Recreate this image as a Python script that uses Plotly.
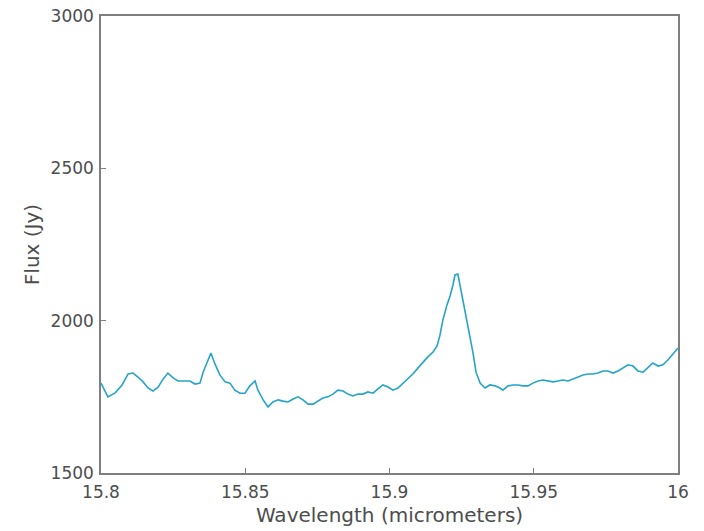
import plotly.graph_objects as go

# Spectrum samples: wavelength (micrometers) and flux (Jy)
wavelength = [
    15.8000, 15.8024, 15.8049, 15.8073, 15.8094, 15.8111, 15.8128, 15.8146,
    15.8163, 15.8180, 15.8198, 15.8215, 15.8232, 15.8250, 15.8267, 15.8291,
    15.8308, 15.8326, 15.8343, 15.8354, 15.8367, 15.8381, 15.8395, 15.8412,
    15.8430, 15.8447, 15.8464, 15.8482, 15.8499, 15.8516, 15.8534, 15.8544,
    15.8562, 15.8579, 15.8596, 15.8614, 15.8631, 15.8648, 15.8666, 15.8683,
    15.8700, 15.8718, 15.8735, 15.8752, 15.8769, 15.8787, 15.8804, 15.8821,
    15.8839, 15.8856, 15.8873, 15.8891, 15.8908, 15.8925, 15.8943, 15.8960,
    15.8977, 15.8995, 15.9012, 15.9029, 15.9047, 15.9064, 15.9081, 15.9099,
    15.9116, 15.9133, 15.9151, 15.9165, 15.9175, 15.9185, 15.9199, 15.9210,
    15.9220, 15.9227, 15.9237, 15.9244, 15.9255, 15.9269, 15.9279, 15.9289,
    15.9300, 15.9314, 15.9331, 15.9348, 15.9366, 15.9383, 15.9393, 15.9411,
    15.9428, 15.9445, 15.9463, 15.9480, 15.9497, 15.9515, 15.9532, 15.9549,
    15.9567, 15.9584, 15.9601, 15.9619, 15.9636, 15.9653, 15.9671, 15.9688,
    15.9705, 15.9723, 15.9740, 15.9757, 15.9775, 15.9792, 15.9809, 15.9827,
    15.9844, 15.9861, 15.9879, 15.9896, 15.9913, 15.9931, 15.9948, 15.9965,
    15.9983, 16.0000,
]
flux = [
    1795, 1750, 1763, 1789, 1825, 1828, 1815, 1799,
    1779, 1769, 1782, 1808, 1828, 1812, 1802, 1802,
    1802, 1792, 1795, 1831, 1864, 1894, 1858, 1822,
    1799, 1795, 1772, 1762, 1762, 1786, 1802, 1772,
    1740, 1717, 1733, 1740, 1736, 1733, 1743, 1750,
    1740, 1726, 1726, 1736, 1746, 1750, 1759, 1772,
    1769, 1759, 1753, 1759, 1759, 1766, 1762, 1776,
    1789, 1782, 1772, 1779, 1795, 1808, 1825, 1845,
    1864, 1881, 1897, 1917, 1953, 2002, 2051, 2081,
    2117, 2150, 2153, 2120, 2061, 2002, 1953, 1897,
    1831, 1795, 1779, 1789, 1786, 1779, 1772, 1786,
    1789, 1789, 1786, 1786, 1795, 1802, 1805, 1802,
    1799, 1802, 1805, 1802, 1808, 1815, 1822, 1825,
    1825, 1828, 1835, 1835, 1828, 1835, 1845, 1855,
    1851, 1835, 1831, 1845, 1861, 1851, 1855, 1871,
    1891, 1910,
]

x_ticks = [15.8, 15.85, 15.9, 15.95, 16]
x_tick_text = ["15.8", "15.85", "15.9", "15.95", "16"]
y_ticks = [1500, 2000, 2500, 3000]

axis_color = "#7f7f7f"
text_color = "#4d4d4d"

fig = go.Figure()
fig.add_trace(go.Scatter(
    x=wavelength, y=flux, mode="lines",
    line=dict(color="#26a4c8", width=1.6),
    showlegend=False,
))

fig.update_layout(
    width=704, height=531,
    margin=dict(l=101, r=26, t=16, b=58),
    paper_bgcolor="white", plot_bgcolor="white",
    font=dict(family="DejaVu Sans", size=17, color=text_color),
)
fig.update_xaxes(
    range=[15.8, 16], tickvals=x_ticks, ticktext=x_tick_text,
    showgrid=False, zeroline=False, automargin=False,
    showline=True, linecolor=axis_color, linewidth=1.5, mirror=True,
    ticks="inside", ticklen=5, tickcolor=axis_color, ticklabelstandoff=3,
    title=dict(text="Wavelength (micrometers)", font=dict(size=20), standoff=7),
)
fig.update_yaxes(
    range=[1500, 3000], tickvals=y_ticks,
    showgrid=False, zeroline=False, automargin=False,
    showline=True, linecolor=axis_color, linewidth=1.5, mirror=True,
    ticks="inside", ticklen=5, tickcolor=axis_color, ticklabelstandoff=2,
    title=dict(text="Flux (Jy)", font=dict(size=20), standoff=6),
)

fig.write_html("out.html")
